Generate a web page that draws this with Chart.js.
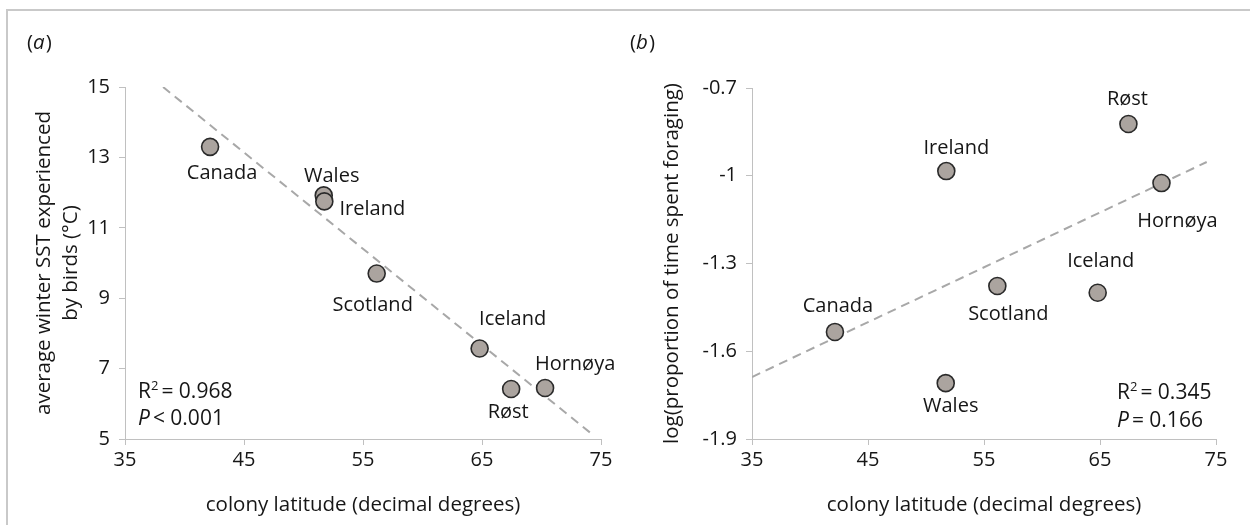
<!DOCTYPE html>
<html>
<head>
<meta charset="utf-8">
<script src="https://cdn.jsdelivr.net/npm/chart.js@4/dist/chart.umd.min.js"></script>
<style>
  html, body { margin: 0; padding: 0; background: #fff; }
  #wrap { position: relative; width: 1250px; height: 525px; overflow: hidden; }
  #frame { position: absolute; left: 6px; top: 9px; width: 1250px; height: 520px;
           border-top: 2px solid #c9c9c9; border-left: 2px solid #c9c9c9; }
  canvas { position: absolute; top: 0; }
  #cA { left: 0; }
  #cB { left: 620px; }
</style>
</head>
<body>
<div id="wrap">
  <div id="frame"></div>
  <canvas id="cA" width="620" height="525"></canvas>
  <canvas id="cB" width="630" height="525"></canvas>
</div>
<script>
// Breeding colonies and their latitude (decimal degrees)
const colonies = ['Canada', 'Wales', 'Ireland', 'Scotland', 'Iceland', 'Røst', 'Hornøya'];
const latitude = [42.15, 51.7, 51.75, 56.15, 64.8, 67.45, 70.3];

// (a) average winter SST experienced by birds (°C)
const winterSST = [13.3, 11.92, 11.75, 9.7, 7.57, 6.42, 6.45];
// (b) log(proportion of time spent foraging)
const logForaging = [-1.534, -1.709, -0.984, -1.377, -1.40, -0.823, -1.025];

// Fitted regression lines (end points)
const fitA_x = [38.2, 74.2];
const fitA_y = [15.0, 5.15];
const fitB_x = [35, 74.2];
const fitB_y = [-1.688, -0.953];

// Axis ticks
const latTicks = [35, 45, 55, 65, 75];
const sstTicks = [5, 7, 9, 11, 13, 15];
const forageTicks = [-1.9, -1.6, -1.3, -1, -0.7];

// Statistics
const statsA = { r2: '0.968', p: '< 0.001' };
const statsB = { r2: '0.345', p: '= 0.166' };

// Label placement around each point (dx, dy in px from the marker centre)
const labelOffsetA = {
  'Canada': [12, 26], 'Wales': [8, -19], 'Ireland': [48, 8], 'Scotland': [-4, 32],
  'Iceland': [33, -29], 'Røst': [-3, 23], 'Hornøya': [30, -24]
};
const labelOffsetB = {
  'Canada': [3, -26], 'Wales': [5, 23], 'Ireland': [10, -23], 'Scotland': [11, 28],
  'Iceland': [3, -31], 'Røst': [-1, -25], 'Hornøya': [16, 38]
};

const FONT = "'Open Sans', 'DejaVu Sans', sans-serif";
const FS = 20;
const TITLE_FS = 20.5;
const TEXT = '#161616';
const AXIS = '#c0c0c0';

Chart.defaults.font.family = FONT;
Chart.defaults.font.size = FS;
Chart.defaults.color = TEXT;

function toPoints(xs, ys) { return xs.map((x, i) => ({ x: x, y: ys[i] })); }

// Draws point labels, panel letter, statistics and axis titles
const panelDecor = {
  id: 'panelDecor',
  afterDatasetsDraw(chart, args, opts) {
    const ctx = chart.ctx;
    const meta = chart.getDatasetMeta(0);
    ctx.save();
    ctx.fillStyle = TEXT;
    ctx.font = FS + 'px ' + FONT;
    ctx.textAlign = 'center';
    ctx.textBaseline = 'middle';
    meta.data.forEach((el, i) => {
      const name = colonies[i];
      const off = opts.offsets[name];
      ctx.fillText(name, el.x + off[0], el.y + off[1]);
    });

    // panel letter: "(" + italic letter + ")"
    ctx.textAlign = 'left';
    let x = opts.letterX;
    const ly = opts.letterY;
    ctx.font = TITLE_FS + 'px ' + FONT;
    ctx.fillText('(', x, ly); x += ctx.measureText('(').width;
    ctx.font = 'italic ' + TITLE_FS + 'px ' + FONT;
    ctx.fillText(opts.letter, x, ly); x += ctx.measureText(opts.letter).width + 1;
    ctx.font = TITLE_FS + 'px ' + FONT;
    ctx.fillText(')', x, ly);

    // statistics
    const sx = opts.statsX;
    const SF = 21;
    ctx.font = SF + 'px ' + FONT;
    let tx = sx;
    ctx.fillText('R', tx, opts.statsY1); tx += ctx.measureText('R').width;
    ctx.font = '13px ' + FONT;
    ctx.fillText('2', tx, opts.statsY1 - 6); tx += ctx.measureText('2').width + 3;
    ctx.font = SF + 'px ' + FONT;
    ctx.fillText('= ' + opts.stats.r2, tx, opts.statsY1);
    tx = sx;
    ctx.font = 'italic ' + SF + 'px ' + FONT;
    ctx.fillText('P', tx, opts.statsY2); tx += ctx.measureText('P').width + 3;
    ctx.font = SF + 'px ' + FONT;
    ctx.fillText(opts.stats.p, tx, opts.statsY2);

    // axis titles
    const ca = chart.chartArea;
    ctx.textAlign = 'center';
    ctx.font = TITLE_FS + 'px ' + FONT;
    ctx.fillText('colony latitude (decimal degrees)', (ca.left + ca.right) / 2, opts.xTitleY);
    const cy = (ca.top + ca.bottom) / 2;
    opts.yTitle.forEach((line, k) => {
      ctx.save();
      ctx.translate(opts.yTitleX[k], cy);
      ctx.rotate(-Math.PI / 2);
      ctx.fillText(line, 0, 0);
      ctx.restore();
    });
    ctx.restore();
  }
};

function makePanel(canvasId, ys, fitX, fitY, yTicks, yMin, yMax, cfg) {
  return new Chart(document.getElementById(canvasId), {
    type: 'scatter',
    data: {
      datasets: [
        {
          data: toPoints(latitude, ys),
          backgroundColor: '#aba49f',
          borderColor: '#2a2a2a',
          borderWidth: 1.6,
          pointRadius: 8.5,
          pointHoverRadius: 8.5,
          order: 0
        },
        {
          type: 'line',
          data: toPoints(fitX, fitY),
          borderColor: '#a8a8a8',
          borderWidth: 2,
          borderDash: [9, 6],
          pointRadius: 0,
          fill: false,
          order: 1
        }
      ]
    },
    options: {
      responsive: false,
      animation: false,
      events: [],
      layout: { padding: cfg.padding },
      plugins: {
        legend: { display: false },
        tooltip: { enabled: false },
        panelDecor: cfg.decor
      },
      scales: {
        x: {
          type: 'linear', min: 35, max: 75,
          afterBuildTicks: s => { s.ticks = latTicks.map(v => ({ value: v })); },
          afterFit: s => { s.height = cfg.xHeight; },
          ticks: { padding: 3, color: TEXT, font: { size: FS } },
          grid: { drawOnChartArea: false, drawTicks: true, tickLength: 6, color: AXIS },
          border: { color: AXIS, width: 1 }
        },
        y: {
          type: 'linear', min: yMin, max: yMax,
          afterBuildTicks: s => { s.ticks = yTicks.map(v => ({ value: v })); },
          afterFit: s => { s.width = cfg.yWidth; },
          ticks: { padding: 9, color: TEXT, font: { size: FS },
                   callback: v => String(+Number(v).toFixed(1)) },
          grid: { drawOnChartArea: false, drawTicks: true, tickLength: 6, color: AXIS },
          border: { color: AXIS, width: 1 }
        }
      }
    },
    plugins: [panelDecor]
  });
}

makePanel('cA', winterSST, fitA_x, fitA_y, sstTicks, 5, 15, {
  padding: { top: 87, right: 19, bottom: 0, left: 0 },
  xHeight: 86, yWidth: 125,
  decor: {
    offsets: labelOffsetA, letter: 'a', letterX: 27, letterY: 43,
    stats: statsA, statsX: 138, statsY1: 392, statsY2: 419,
    xTitleY: 505,
    yTitle: ['average winter SST experienced', 'by birds (°C)'], yTitleX: [44, 71]
  }
});

makePanel('cB', logForaging, fitB_x, fitB_y, forageTicks, -1.9, -0.7, {
  padding: { top: 88, right: 34, bottom: 0, left: 0 },
  xHeight: 86, yWidth: 132,
  decor: {
    offsets: labelOffsetB, letter: 'b', letterX: 10, letterY: 43,
    stats: statsB, statsX: 497, statsY1: 393, statsY2: 421,
    xTitleY: 505,
    yTitle: ['log(proportion of time spent foraging)'], yTitleX: [52]
  }
});
</script>
</body>
</html>
